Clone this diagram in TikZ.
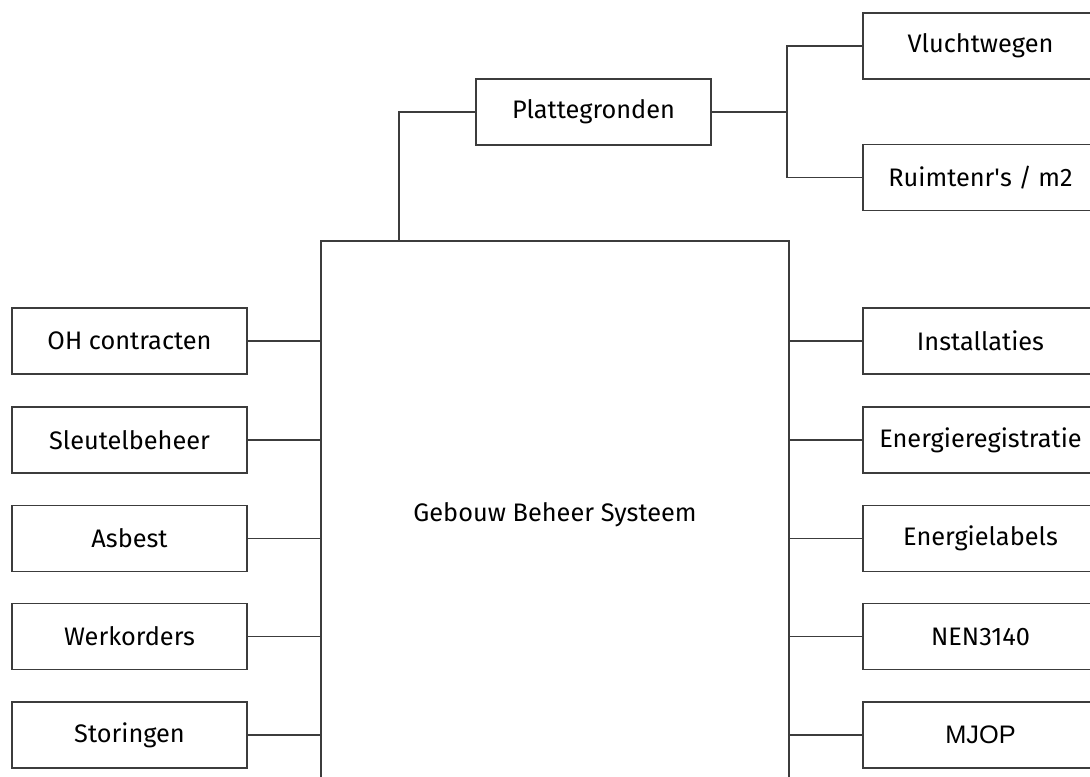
\documentclass[tikz,border=0pt]{standalone}
\usepackage{fontspec}
\setmainfont{Fira Sans}
\newfontfamily\arialfont{Liberation Sans}
\definecolor{linegray}{HTML}{3C3C3C}

\begin{document}
\begin{tikzpicture}[x=0.75pt,y=-0.75pt,line width=1.1pt,
    main node/.style={rectangle,draw=linegray,fill=white,inner sep=0pt,
        minimum width=176pt,minimum height=49.5pt,font=\fontsize{19}{23}\selectfont},
    big node/.style={main node,minimum width=351pt,minimum height=411pt},
    branch/.style={to path={-| (\tikztotarget)}},
    fork/.style={to path={|- (\tikztotarget)}}]
    \useasboundingbox (0,0) rectangle (1090,776);
    \clip (0,0) rectangle (1090,776);

    \node[big node] at (555, 515) (gbs) {Gebouw Beheer Systeem};

    \node[main node] at (593.5, 112) (plat) {Plattegronden};
    \node[main node] at (980.5, 46) (vlucht) {Vluchtwegen};
    \node[main node] at (980.5, 177.5) (ruimte) {Ruimtenr\textquotesingle s / m2};

    \node[main node] at (129.5, 341) (oh) {OH contracten};
    \node[main node] at (129.5, 440) (sleutel) {Sleutelbeheer};
    \node[main node] at (129.5, 538.5) (asbest) {Asbest};
    \node[main node] at (129.5, 636.5) (werk) {Werkorders};
    \node[main node] at (129.5, 735) (storing) {Storingen};

    \node[main node] at (980.5, 341) (install) {Installaties};
    \node[main node] at (980.5, 440) (ereg) {Energieregistratie};
    \node[main node] at (980.5, 538.5) (elab) {Energielabels};
    \node[main node] at (980.5, 636.5) (nen) {NEN3140};
    \node[main node] at (980.5, 735) (mjop) {\arialfont MJOP};

    \coordinate (tap) at (399, 241);
    \coordinate (split) at (787, 112);

    \path[draw=linegray]
        (plat.west) edge[branch] (tap)
        (plat.east) edge (split)
        (split) edge[fork] (vlucht.west)
        (split) edge[fork] (ruimte.west)
        (oh) edge (gbs.west |- oh)
        (sleutel) edge (gbs.west |- sleutel)
        (asbest) edge (gbs.west |- asbest)
        (werk) edge (gbs.west |- werk)
        (storing) edge (gbs.west |- storing)
        (install) edge (gbs.east |- install)
        (ereg) edge (gbs.east |- ereg)
        (elab) edge (gbs.east |- elab)
        (nen) edge (gbs.east |- nen)
        (mjop) edge (gbs.east |- mjop)
        ;
\end{tikzpicture}
\end{document}
